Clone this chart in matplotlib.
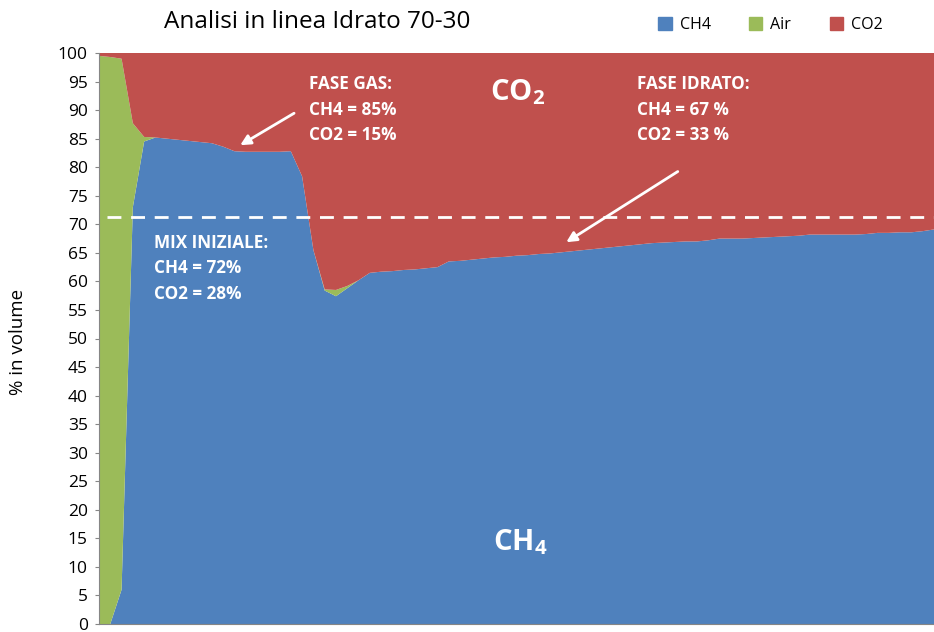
import numpy as np
import matplotlib
matplotlib.use('Agg')
from matplotlib import pyplot as plt
from matplotlib.patches import Patch

plt.rcParams['font.family'] = ['Open Sans', 'DejaVu Sans']
plt.rcParams['mathtext.fontset'] = 'custom'
plt.rcParams['mathtext.rm'] = 'Open Sans'
plt.rcParams['mathtext.bf'] = 'Open Sans:bold'

# readings of the on-line analysis, % in volume
ch4 = [0, 0, 6, 73, 84.5, 85.2, 85.0, 84.8, 84.6, 84.4,
       84.2, 83.6, 82.8, 82.7, 82.7, 82.7, 82.7, 82.8, 78.4, 65.5,
       58.4, 57.4, 58.8, 60.2, 61.5, 61.7, 61.8, 62.0, 62.1, 62.3,
       62.5, 63.5, 63.6, 63.8, 64.0, 64.2, 64.3, 64.5, 64.6, 64.8,
       64.9, 65.1, 65.3, 65.5, 65.7, 65.9, 66.1, 66.3, 66.5, 66.7,
       66.8, 66.9, 67.0, 67.0, 67.2, 67.5, 67.5, 67.5, 67.6, 67.7,
       67.8, 67.9, 68.0, 68.2, 68.2, 68.2, 68.2, 68.2, 68.3, 68.5,
       68.5, 68.6, 68.6, 68.8, 69.1]
air = [99.5, 99.3, 93.0, 14.7, 0.8] + [0] * 15 + [0.2, 1.1, 0.4] + [0] * 52
co2 = [100 - a - b for a, b in zip(ch4, air)]

labels = ['CH4', 'Air', 'CO2']
colors = ['#4F81BD', '#9BBB59', '#C0504D']
yticks = list(range(0, 101, 5))

x = np.arange(len(ch4))

fig = plt.figure(figsize=(9.34, 6.32), dpi=100)
ax = fig.add_axes([99/934, 8/632, 835/934, 571/632])

ax.stackplot(x, ch4, air, co2, colors=colors, linewidth=0)
ax.set_xlim(0, len(x) - 1)
ax.set_ylim(0, 100)
ax.set_yticks(yticks)
ax.set_xticks([])
ax.tick_params(axis='y', labelsize=12.5, length=3, color='#868686', pad=5)
for s in ['top', 'right']:
    ax.spines[s].set_visible(False)
for s in ['left', 'bottom']:
    ax.spines[s].set_color('#868686')

# initial mix level
ax.plot([0.7, len(x) - 1], [71.2, 71.2], color='white', lw=2, dashes=(5, 3.5))

# notes
def note(xp, ytop, lines):
    for i, t in enumerate(lines):
        ax.text(xp, ytop - i * 4.5, t, color='white', fontsize=12.3,
                fontweight='bold', va='center', ha='left')

note(18.6, 94.6, ['FASE GAS:', 'CH4 = 85%', 'CO2 = 15%'])
note(47.7, 94.6, ['FASE IDRATO:', 'CH4 = 67 %', 'CO2 = 33 %'])
note(4.9, 66.8, ['MIX INIZIALE:', 'CH4 = 72%', 'CO2 = 28%'])

ax.text(37.1, 93.2, r'$\mathbf{CO_2}$', color='white', fontsize=21,
        ha='center', va='center')
ax.text(37.3, 14.3, r'$\mathbf{CH_4}$', color='white', fontsize=21,
        ha='center', va='center')

arr = dict(arrowstyle='-|>,head_length=0.6,head_width=0.3', color='white', lw=2)
ax.annotate('', xy=(12.3, 83.6), xytext=(17.5, 89.7), arrowprops=arr)
ax.annotate('', xy=(41.2, 66.6), xytext=(51.5, 79.5), arrowprops=arr)

fig.text(317/934, 1 - 22/632, 'Analisi in linea Idrato 70-30', fontsize=17.5,
         ha='center', va='center')
fig.text(18/934, 1 - 342/632, '% in volume', fontsize=13.5, rotation=90,
         ha='center', va='center')

handles = [Patch(color=c) for c in colors]
fig.legend(handles, labels, loc='center right', bbox_to_anchor=(883/934, 1 - 25/632),
           ncol=3, frameon=False, fontsize=11.5, handlelength=0.85,
           handleheight=0.85, columnspacing=2.4, handletextpad=0.5,
           borderpad=0, borderaxespad=0)

plt.savefig('out.png', dpi=100)
